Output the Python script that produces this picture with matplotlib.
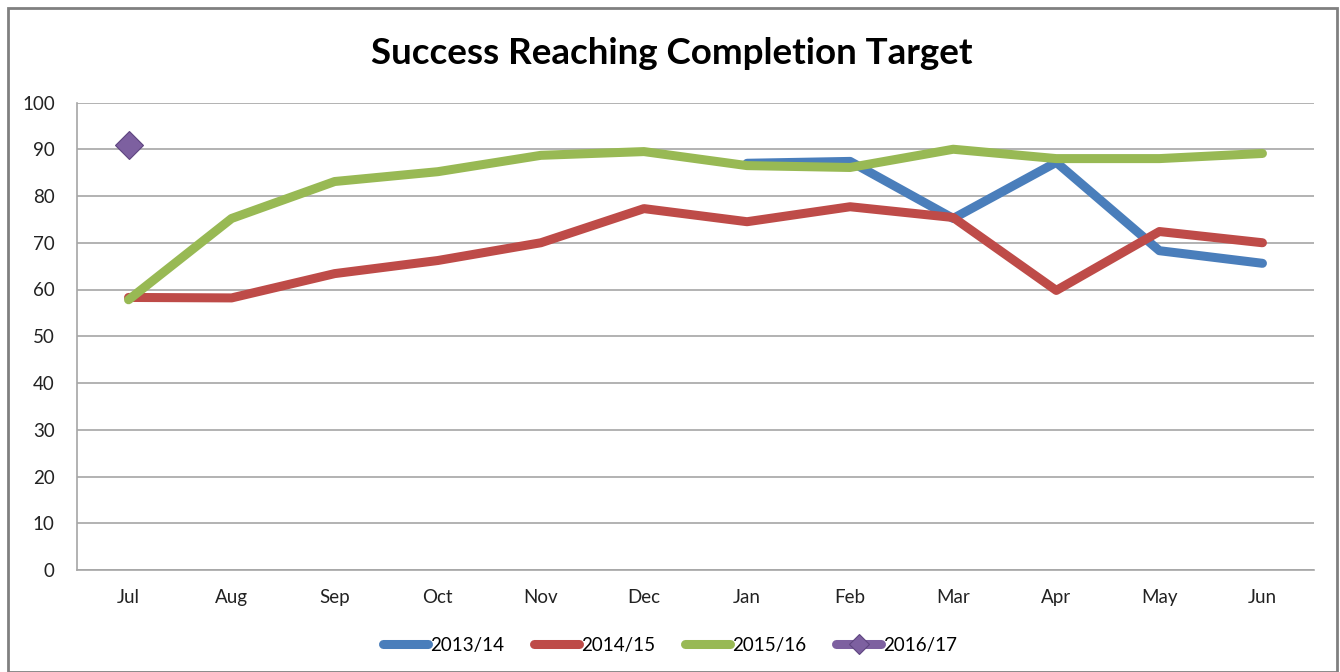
import numpy as np
import matplotlib
matplotlib.use("Agg")
import matplotlib.pyplot as plt
from matplotlib.patches import Rectangle

months = ["Jul", "Aug", "Sep", "Oct", "Nov", "Dec", "Jan", "Feb", "Mar", "Apr", "May", "Jun"]
nan = np.nan
s_2013 = [nan, nan, nan, nan, nan, nan, 87.0, 87.4, 75.2, 87.2, 68.3, 65.6]
s_2014 = [58.3, 58.2, 63.4, 66.2, 70.0, 77.3, 74.5, 77.7, 75.4, 59.8, 72.4, 70.0]
s_2015 = [57.8, 75.2, 83.1, 85.2, 88.7, 89.5, 86.5, 86.1, 90.0, 88.0, 88.0, 89.1]
s_2016 = [90.9, nan, nan, nan, nan, nan, nan, nan, nan, nan, nan, nan]

plt.rcParams["font.family"] = ["Lato", "DejaVu Sans"]

fig = plt.figure(figsize=(13.4, 6.72), dpi=100)
ax = fig.add_axes([77 / 1340, 1 - 570 / 672, (1314 - 77) / 1340, (570 - 102.5) / 672])

x = np.arange(len(months))
lw = 6.5
ax.plot(x, s_2013, color="#4A7EBB", lw=lw, solid_capstyle="round", solid_joinstyle="round", label="2013/14")
ax.plot(x, s_2014, color="#BE4B48", lw=lw, solid_capstyle="round", solid_joinstyle="round", label="2014/15")
ax.plot(x, s_2015, color="#98B954", lw=lw, solid_capstyle="round", solid_joinstyle="round", label="2015/16")
ax.plot(x, s_2016, color="#7D60A0", lw=lw, marker="D", markersize=14, markeredgecolor="#5E4580",
        markeredgewidth=0.8, solid_capstyle="round", label="2016/17")

ax.set_xlim(-0.5, len(months) - 0.5)
ax.set_ylim(0, 100)
ax.set_yticks(np.arange(0, 101, 10))
ax.set_xticks(x)
ax.set_xticklabels(months)
ax.tick_params(length=0, labelsize=13.5, colors="#222222")
ax.tick_params(axis="x", pad=14)
ax.tick_params(axis="y", pad=16)
ax.grid(axis="y", color="#A6A6A6", lw=1.2)
ax.set_axisbelow(True)
for side in ["top", "right"]:
    ax.spines[side].set_visible(False)
for side in ["left", "bottom"]:
    ax.spines[side].set_color("#A6A6A6")
    ax.spines[side].set_linewidth(1.2)

fig.text(672 / 1340, 1 - 54 / 672, "Success Reaching Completion Target", ha="center", va="center",
         fontsize=26.5, fontweight="bold", color="black")

leg = fig.legend(loc="center", bbox_to_anchor=(0.5, 1 - 645 / 672), ncol=4, frameon=False,
                 fontsize=13.5, handlelength=2.4, handletextpad=0.1, columnspacing=1.6,
                 markerscale=0.75)

fig.patches.append(Rectangle((8 / 1340, 0), 1329 / 1340, 1 - 8 / 672, transform=fig.transFigure,
                             fill=False, edgecolor="#808080", lw=2))

fig.savefig("out.png", dpi=100)
